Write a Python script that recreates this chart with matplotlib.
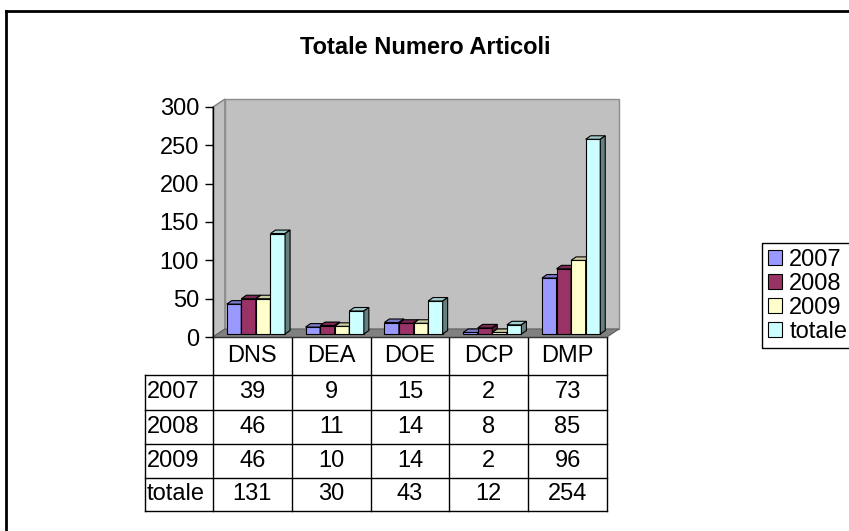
"""Totale Numero Articoli - Excel style 3D clustered columns with data table."""

import numpy as np
import matplotlib
matplotlib.use("Agg")
import matplotlib.pyplot as plt
from matplotlib.patches import Polygon, Patch
from matplotlib.colors import to_rgb

plt.rcParams['font.family'] = ['Liberation Sans', 'DejaVu Sans']

categories = ["DNS", "DEA", "DOE", "DCP", "DMP"]
series_names = ["2007", "2008", "2009", "totale"]
v2007 = [39, 9, 15, 2, 73]
v2008 = [46, 11, 14, 8, 85]
v2009 = [46, 10, 14, 2, 96]
vtotale = [131, 30, 43, 12, 254]
colors = ["#9999FF", "#993366", "#FFFFCC", "#CCFFFF"]
yticks = [0, 50, 100, 150, 200, 250, 300]

series = [v2007, v2008, v2009, vtotale]
FS = 17

W, H = 849, 531
fig = plt.figure(figsize=(W / 100, H / 100), dpi=100)

# background axes in pixel coords (border, title, table)
bg = fig.add_axes([0, 0, 1, 1], zorder=0)
bg.set_xlim(0, W)
bg.set_ylim(H, 0)
bg.axis('off')

bg.plot([6, W], [10.5, 10.5], color='black', lw=2)
bg.plot([6, 6], [10.5, H], color='black', lw=2)
bg.text(425, 47, "Totale Numero Articoli", ha='center', va='center',
        fontsize=FS, fontweight='bold')

# main plot area (front plane)
x0, x1, y0, y1 = 213, 607, 337, 107
ax = fig.add_axes([x0 / W, 1 - y0 / H, (x1 - x0) / W, (y0 - y1) / H], zorder=1)
ax.set_xlim(0, len(categories))
ax.set_ylim(0, 300)
ax.patch.set_visible(False)
for s in ['top', 'right', 'bottom']:
    ax.spines[s].set_visible(False)
ax.spines['left'].set_linewidth(1)
ax.set_xticks([])
ax.set_yticks(yticks)
ax.tick_params(axis='y', direction='out', length=6, width=1, labelsize=FS, pad=4)

px_x = (x1 - x0) / len(categories)   # pixels per category
px_y = (y0 - y1) / 300.0              # pixels per unit


def off(dxp, dyp):
    return dxp / px_x, dyp / px_y


# walls and floor
dx, dy = off(12, 8)
ax.add_patch(Polygon([(0, 0), (dx, dy), (dx, 300 + dy), (0, 300)], closed=True,
                     facecolor='#C0C0C0', edgecolor='#808080', lw=1, clip_on=False))
ax.add_patch(Polygon([(dx, dy), (5 + dx, dy), (5 + dx, 300 + dy), (dx, 300 + dy)], closed=True,
                     facecolor='#C0C0C0', edgecolor='#8C8C8C', lw=1, clip_on=False))
ax.add_patch(Polygon([(0, 0), (5, 0), (5 + dx, dy), (dx, dy)], closed=True,
                     facecolor='#808080', edgecolor='#606060', lw=0.8, clip_on=False))

# bars
bw = 0.185
ox, oy = off(3.5, 3)
bdx, bdy = off(5, 3.5)
for ci in range(len(categories)):
    left0 = ci + 0.5 - 2 * bw + ox
    for si, vals in enumerate(series):
        c = np.array(to_rgb(colors[si]))
        l = left0 + si * bw
        r = l + bw
        b = oy
        t = vals[ci] + oy
        ax.add_patch(Polygon([(l, b), (r, b), (r, t), (l, t)], closed=True,
                             facecolor=c, edgecolor='black', lw=0.8, clip_on=False))
        ax.add_patch(Polygon([(l, t), (r, t), (r + bdx, t + bdy), (l + bdx, t + bdy)], closed=True,
                             facecolor=c * 0.8, edgecolor='black', lw=0.8, clip_on=False))
        ax.add_patch(Polygon([(r, b), (r + bdx, b + bdy), (r + bdx, t + bdy), (r, t)], closed=True,
                             facecolor=c * 0.5, edgecolor='black', lw=0.8, clip_on=False))

# data table
col_edges = [x0 + i * px_x for i in range(len(categories) + 1)]
row_edges = [337, 375, 410, 444, 478, 511]
tl = 145
bg.plot([x0, x1], [row_edges[0], row_edges[0]], color='black', lw=1)
for yy in row_edges[1:]:
    bg.plot([tl, x1], [yy, yy], color='black', lw=1)
for xx in col_edges:
    bg.plot([xx, xx], [row_edges[0], row_edges[-1]], color='black', lw=1)
bg.plot([tl, tl], [row_edges[1], row_edges[-1]], color='black', lw=1)

for ci, cat in enumerate(categories):
    xc = (col_edges[ci] + col_edges[ci + 1]) / 2
    bg.text(xc, (row_edges[0] + row_edges[1]) / 2, cat, ha='center', va='center', fontsize=FS)
    for si, vals in enumerate(series):
        yc = (row_edges[si + 1] + row_edges[si + 2]) / 2
        bg.text(xc, yc, str(vals[ci]), ha='center', va='center', fontsize=FS)
for si, name in enumerate(series_names):
    yc = (row_edges[si + 1] + row_edges[si + 2]) / 2
    bg.text(tl + 2, yc, name, ha='left', va='center', fontsize=FS)

# legend (cut off at right edge like the original)
handles = [Patch(facecolor=c, edgecolor='black', lw=0.8) for c in colors]
leg = fig.legend(handles, series_names, loc='upper left',
                 bbox_to_anchor=(762 / W, 1 - 243 / H), fontsize=FS,
                 frameon=True, fancybox=False, framealpha=1, edgecolor='black',
                 handlelength=0.6, handleheight=0.6, handletextpad=0.3,
                 labelspacing=0.08, borderpad=0.25, borderaxespad=0)
leg.get_frame().set_linewidth(1)

fig.savefig("out.png", dpi=100)
